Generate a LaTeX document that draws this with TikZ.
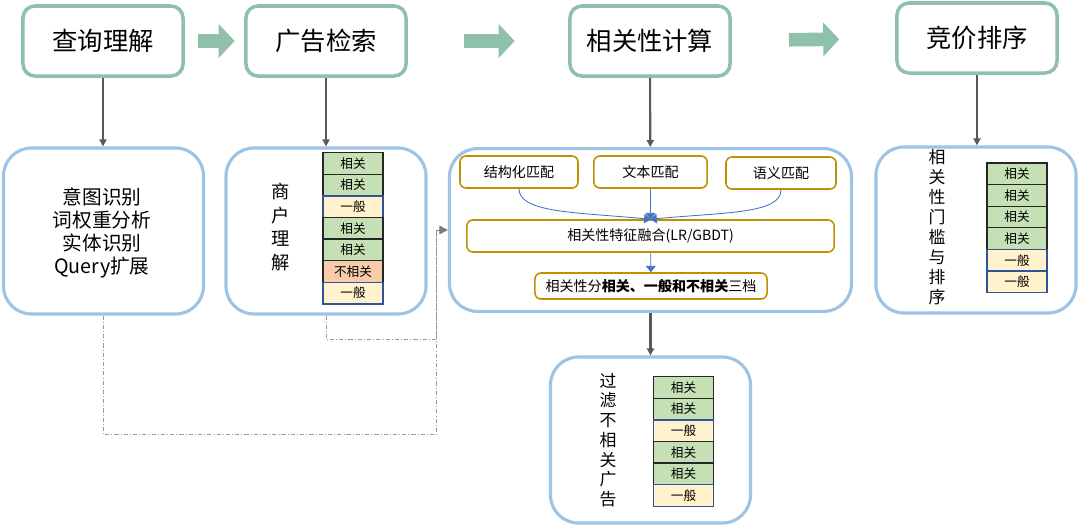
\documentclass[tikz,border=0pt]{standalone}
\usepackage{fontspec}
\setmainfont{Noto Sans CJK SC}
\usetikzlibrary{arrows.meta,positioning,calc}
\definecolor{stagegreen}{RGB}{143,193,170}
\definecolor{panelblue}{RGB}{157,195,230}
\definecolor{matchgold}{RGB}{191,144,0}
\definecolor{linkblue}{RGB}{68,114,196}
\definecolor{cellgreen}{RGB}{197,224,180}
\definecolor{cellyellow}{RGB}{255,242,204}
\definecolor{cellorange}{RGB}{248,203,173}
\definecolor{cellblue}{RGB}{47,85,151}
\definecolor{arrgray}{RGB}{89,89,89}
\tikzset{
  stage/.style   = {rectangle, draw=stagegreen, line width=2.5pt, rounded corners=0.3cm,
                    minimum width=4.0cm, minimum height=1.75cm,
                    font=\fontsize{18pt}{22pt}\selectfont},
  panel/.style   = {rectangle, draw=panelblue, line width=2.2pt, rounded corners=0.7cm,
                    minimum width=5.0cm, minimum height=4.15cm},
  match/.style   = {rectangle, draw=matchgold, line width=1.1pt, rounded corners=0.15cm,
                    minimum height=0.8cm, font=\fontsize{10pt}{12pt}\selectfont},
  vtext/.style   = {align=center, font=\fontsize{12pt}{14.2pt}\selectfont},
  cellrel/.style = {rectangle, draw=black!85, fill=cellgreen, line width=0.9pt, outer sep=0pt,
                    minimum width=1.5cm, minimum height=0.54cm,
                    font=\fontsize{9pt}{10pt}\selectfont},
  cellmid/.style = {cellrel, draw=cellblue, fill=cellyellow},
  cellirr/.style = {cellrel, fill=cellorange},
  flow/.style    = {stagegreen, line width=0.34cm, -{Triangle[length=0.4cm, width=0.83cm]}},
  arr/.style     = {arrgray, line width=1.5pt, -{Triangle[length=5pt, width=5pt]}},
  barr/.style    = {linkblue, line width=0.6pt, -{Triangle[length=4.5pt, width=7pt]}},
  dashln/.style  = {gray!80, line width=0.6pt, dash pattern=on 3pt off 1.5pt on 0.6pt off 1.5pt},
}
\begin{document}
\begin{tikzpicture}[x=0.025cm, y=-0.025cm]

\fill[white] (0,0) rectangle (1080,528);

%% -- Pipeline stages ------------------------------------------------------
\node[stage] (query)  at (103,41)  {查询理解};
\node[stage] (recall) at (326,41)  {广告检索};
\node[stage] (relev)  at (650,41)  {相关性计算};
\node[stage] (bid)    at (977,38)  {竞价排序};

\draw[flow, shorten <=0.33cm, shorten >=0.24cm] (query) -- (recall);
\draw[flow, shorten <=1.4cm, shorten >=1.34cm] (recall) -- (relev);
\draw[flow, shorten <=1.43cm, shorten >=1.4cm] (relev) -- (bid);

%% -- Detail panels --------------------------------------------------------
\node[panel] (qpanel) at (103.5,231) {};
\node[panel] (rpanel) at (326,231) {};
\node[panel, minimum width=10.05cm, minimum height=4.07cm] (cpanel) at (650.5,230) {};
\node[panel] (bpanel) at (976,230) {};
\node[panel] (fpanel) at (650.5,440) {};

\draw[arr] (query.south) -- (query.south |- qpanel.north);
\draw[arr] (recall) -- (rpanel);
\draw[arr] (relev) -- (cpanel);
\draw[arr] (bid) -- (bid |- bpanel.north);
\draw[arr] (cpanel) -- (fpanel);

%% -- Query understanding --------------------------------------------------
\node[align=center, font=\fontsize{14pt}{16.5pt}\selectfont] (qtasks) at (102,233)
  {意图识别\\词权重分析\\实体识别\\Query扩展};

%% -- Ad recall ------------------------------------------------------------
\node[vtext, font=\fontsize{13pt}{17pt}\selectfont] (rlabel) at (281,227) {商\\户\\理\\解};
\node[cellrel] (r1) at (353,163.5) {相关};
\node[cellrel, below=0pt of r1] (r2) {相关};
\node[cellmid, below=0pt of r2] (r3) {一般};
\node[cellrel, below=0pt of r3] (r4) {相关};
\node[cellrel, below=0pt of r4] (r5) {相关};
\node[cellirr, below=0pt of r5] (r6) {不相关};
\node[cellmid, below=0pt of r6] (r7) {一般};

%% -- Relevance computation ------------------------------------------------
\node[match, minimum width=2.95cm] (smatch) at (519,172)   {结构化匹配};
\node[match, minimum width=2.83cm] (tmatch) at (650.5,172) {文本匹配};
\node[match, minimum width=2.75cm] (ematch) at (781,173)   {语义匹配};
\node[match, minimum width=9.18cm] (fusion) at (650.5,236) {相关性特征融合(LR/GBDT)};
\node[match, minimum width=5.8cm, minimum height=0.65cm] (grade) at (651,286)
  {相关性分\textbf{相关、一般和不相关}三档};

\draw[barr] (smatch.south) .. controls +(0,24) and +(-75,-7) .. (fusion.north);
\draw[barr] (tmatch) -- (fusion);
\draw[barr] (ematch.south) .. controls +(0,24) and +(75,-7) .. (fusion.north);
\draw[barr] (fusion) -- (grade);

%% -- Bidding and ranking --------------------------------------------------
\node[vtext] (blabel) at (937,227) {相\\关\\性\\门\\槛\\与\\排\\序};
\node[cellrel] (b1) at (1017,173.8) {相关};
\node[cellrel, below=0pt of b1] (b2) {相关};
\node[cellrel, below=0pt of b2] (b3) {相关};
\node[cellrel, below=0pt of b3] (b4) {相关};
\node[cellmid, below=0pt of b4] (b5) {一般};
\node[cellmid, below=0pt of b5] (b6) {一般};

%% -- Filtering ------------------------------------------------------------
\node[vtext, font=\fontsize{12pt}{14pt}\selectfont] (flabel) at (608,440) {过\\滤\\不\\相\\关\\广\\告};
\node[cellrel] (f1) at (683.5,387.5) {相关};
\node[cellrel, below=0pt of f1] (f2) {相关};
\node[cellmid, below=0pt of f2] (f3) {一般};
\node[cellrel, below=0pt of f3] (f4) {相关};
\node[cellrel, below=0pt of f4] (f5) {相关};
\node[cellmid, below=0pt of f5] (f6) {一般};

%% -- Query / recall signals feed relevance --------------------------------
\coordinate (jn) at ([xshift=-0.28cm]cpanel.west);
\draw[dashln] (qpanel.south) -- ++(0,119) -| (jn);
\draw[dashln] (rpanel.south) -- ++(0,24) -| (jn);
\draw[dashln, arrgray!80, -{Triangle[length=6pt, width=6pt]}] (jn) -- (cpanel.west);

\end{tikzpicture}
\end{document}
